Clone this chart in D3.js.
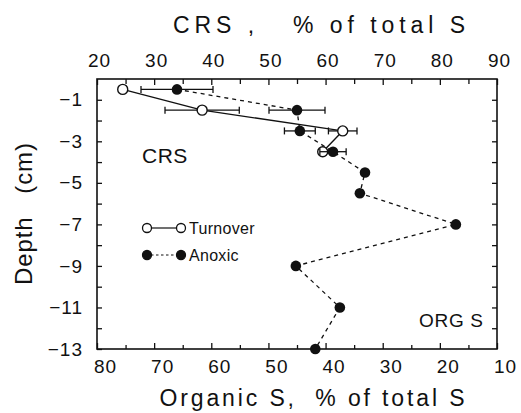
<!DOCTYPE html>
<html>
<head>
<meta charset="utf-8">
<script src="https://cdn.jsdelivr.net/npm/d3@7"></script>
<style>
  body { margin: 0; background: #fff; }
  svg { display: block; }
  text { font-family: "Liberation Sans", Arial, sans-serif; fill: #111; }
</style>
</head>
<body>
<div id="chart"></div>
<script>
// depth profile of sulfur species (CRS vs organic S)
const anoxicDepth = [-0.5, -1.5, -2.5, -3.5, -4.5, -5.5, -7, -9, -11, -13];
const anoxicCRS = [34.0, 55.0, 55.5, 61.3, 66.9, 66.0, 82.8, 54.8, 62.5, 58.2];
const anoxicErr = [6.3, 4.9, 2.7, 2.3, 0, 0, 0, 0, 0, 0];

const turnoverDepth = [-0.5, -1.5, -2.5, -3.5];
const turnoverCRS = [24.5, 38.4, 63.0, 59.5];
const turnoverErr = [0, 6.5, 2.5, 0];

const crsTicks = [20, 30, 40, 50, 60, 70, 80, 90];
const crsMinor = [25, 35, 45, 55, 65, 75, 85];
const orgTicks = [80, 70, 60, 50, 40, 30, 20, 10];
const orgMinor = [75, 65, 55, 45, 35, 25, 15];
const depthTicks = [-1, -3, -5, -7, -9, -11, -13];
const depthMinor = [-2, -4, -6, -8, -10, -12];
const depthAll = [-1, -2, -3, -4, -5, -6, -7, -8, -9, -10, -11, -12];

const W = 521, H = 413;
const box = { left: 97, right: 497, top: 79, bottom: 349 };

const svg = d3.select("#chart").append("svg")
    .attr("width", W).attr("height", H);

const xTop = d3.scaleLinear().domain([20, 90]).range([box.left, box.right]);
const xBot = d3.scaleLinear().domain([80, 10]).range([box.left, box.right]);
const y = d3.scaleLinear().domain([0, -13]).range([box.top, box.bottom]);

const minus = d => d < 0 ? "\u2212" + Math.abs(d) : String(d);

function styleAxis(g) {
    g.select(".domain").remove();
    g.selectAll(".tick line").attr("stroke", "#111").attr("stroke-width", 1.3);
    g.selectAll(".tick text").style("font-size", "19px").style("letter-spacing", "1px")
        .style("font-family", "'Liberation Sans', Arial, sans-serif").attr("fill", "#111");
}

// top axis (CRS)
svg.append("g").attr("transform", `translate(0,${box.top})`)
    .call(d3.axisTop(xTop).tickValues(crsTicks).tickSize(-6).tickPadding(12))
    .call(styleAxis)
    .selectAll(".tick text").attr("dx", 2);
svg.append("g").attr("transform", `translate(0,${box.top})`)
    .call(d3.axisTop(xTop).tickValues(crsMinor).tickSize(-5).tickFormat(""))
    .call(styleAxis);

// bottom axis (organic S)
svg.append("g").attr("transform", `translate(0,${box.bottom})`)
    .call(d3.axisBottom(xBot).tickValues(orgTicks).tickSize(-6).tickPadding(11))
    .call(styleAxis)
    .selectAll(".tick text").attr("dx", 8);
svg.append("g").attr("transform", `translate(0,${box.bottom})`)
    .call(d3.axisBottom(xBot).tickValues(orgMinor).tickSize(-4).tickFormat(""))
    .call(styleAxis);

// left axis (depth)
svg.append("g").attr("transform", `translate(${box.left},0)`)
    .call(d3.axisLeft(y).tickValues(depthTicks).tickSize(-5).tickPadding(14).tickFormat(minus))
    .call(styleAxis);
svg.append("g").attr("transform", `translate(${box.left},0)`)
    .call(d3.axisLeft(y).tickValues(depthMinor).tickSize(-5).tickFormat(""))
    .call(styleAxis);

// right axis ticks only
svg.append("g").attr("transform", `translate(${box.right},0)`)
    .call(d3.axisRight(y).tickValues(depthAll).tickSize(-5).tickFormat(""))
    .call(styleAxis);

// frame
svg.append("rect")
    .attr("x", box.left).attr("y", box.top)
    .attr("width", box.right - box.left).attr("height", box.bottom - box.top)
    .attr("fill", "none").attr("stroke", "#111").attr("stroke-width", 1.6);

// axis titles
svg.append("text")
    .attr("x", 319).attr("y", 33)
    .attr("text-anchor", "middle")
    .style("font-size", "23px").style("white-space", "pre")
    .attr("textLength", 292).attr("lengthAdjust", "spacing")
    .text("CRS ,   % of total S");

svg.append("text")
    .attr("x", 312).attr("y", 406)
    .attr("text-anchor", "middle")
    .style("font-size", "23px").style("white-space", "pre")
    .attr("textLength", 305).attr("lengthAdjust", "spacing")
    .text("Organic S,  % of total S");

svg.append("text")
    .attr("transform", "translate(32,214) rotate(-90)")
    .attr("text-anchor", "middle")
    .style("font-size", "24px").style("white-space", "pre")
    .attr("textLength", 142).attr("lengthAdjust", "spacing")
    .text("Depth   (cm)");

// in-plot labels
svg.append("text").attr("x", 142).attr("y", 163)
    .style("font-size", "21px").style("letter-spacing", "0.5px")
    .text("CRS");
svg.append("text").attr("x", 419).attr("y", 327)
    .style("font-size", "19px").style("white-space", "pre")
    .attr("textLength", 64).attr("lengthAdjust", "spacing")
    .text("ORG S");

const anoxic = anoxicDepth.map((d, i) => ({ depth: d, crs: anoxicCRS[i], err: anoxicErr[i] }));
const turnover = turnoverDepth.map((d, i) => ({ depth: d, crs: turnoverCRS[i], err: turnoverErr[i] }));

const line = d3.line().x(d => xTop(d.crs)).y(d => y(d.depth));

svg.append("path").datum(anoxic)
    .attr("d", line).attr("fill", "none")
    .attr("stroke", "#111").attr("stroke-width", 1.3).attr("stroke-dasharray", "4,4");

svg.append("path").datum(turnover)
    .attr("d", line).attr("fill", "none")
    .attr("stroke", "#111").attr("stroke-width", 1.4);

function errorBars(data, cls) {
    const g = svg.append("g").attr("class", cls);
    const withErr = data.filter(d => d.err > 0);
    g.selectAll("line.bar").data(withErr).join("line").attr("class", "bar")
        .attr("x1", d => xTop(d.crs - d.err)).attr("x2", d => xTop(d.crs + d.err))
        .attr("y1", d => y(d.depth)).attr("y2", d => y(d.depth))
        .attr("stroke", "#111").attr("stroke-width", 1.3);
    [-1, 1].forEach(s => {
        g.selectAll(`line.cap${s}`).data(withErr).join("line").attr("class", `cap${s}`)
            .attr("x1", d => xTop(d.crs + s * d.err)).attr("x2", d => xTop(d.crs + s * d.err))
            .attr("y1", d => y(d.depth) - 3.5).attr("y2", d => y(d.depth) + 3.5)
            .attr("stroke", "#111").attr("stroke-width", 1.3);
    });
}

errorBars(turnover, "err-turnover");
svg.selectAll("circle.turnover").data(turnover).join("circle")
    .attr("class", "turnover")
    .attr("cx", d => xTop(d.crs)).attr("cy", d => y(d.depth)).attr("r", 5)
    .attr("fill", "#fff").attr("stroke", "#111").attr("stroke-width", 1.4);

errorBars(anoxic, "err-anoxic");
svg.selectAll("circle.anoxic").data(anoxic).join("circle")
    .attr("class", "anoxic")
    .attr("cx", d => xTop(d.crs)).attr("cy", d => y(d.depth)).attr("r", 5.3)
    .attr("fill", "#111");

// legend
const legend = svg.append("g");
const legendRows = [
    { name: "Turnover", y: 228, open: true },
    { name: "Anoxic", y: 255, open: false }
];
legendRows.forEach(r => {
    legend.append("line")
        .attr("x1", 151).attr("x2", 177).attr("y1", r.y).attr("y2", r.y)
        .attr("stroke", "#111").attr("stroke-width", 1.2)
        .attr("stroke-dasharray", r.open ? null : "2.5,2.5");
    [147, 181].forEach(cx => {
        legend.append("circle").attr("cx", cx).attr("cy", r.y).attr("r", 4.5)
            .attr("fill", r.open ? "#fff" : "#111")
            .attr("stroke", "#111").attr("stroke-width", 1.3);
    });
    legend.append("text").attr("x", 189).attr("y", r.y + 5.5)
        .style("font-size", "16px").style("letter-spacing", "0.3px")
        .text(r.name);
});
</script>
</body>
</html>
